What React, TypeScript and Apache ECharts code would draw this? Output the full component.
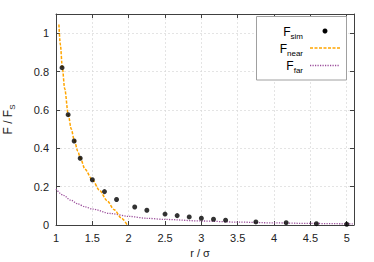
import React, { useEffect, useRef } from "react";
import * as echarts from "echarts";

const simX = [1.083, 1.167, 1.25, 1.333, 1.5, 1.667, 1.833, 2.083, 2.25, 2.5, 2.667, 2.833, 3.0, 3.167, 3.333, 3.75, 4.167, 4.583, 5.0];
const simY = [0.82, 0.575, 0.438, 0.348, 0.236, 0.174, 0.133, 0.094, 0.077, 0.057, 0.049, 0.042, 0.035, 0.03, 0.025, 0.016, 0.012, 0.007, 0.004];

const nearX = [1.04, 1.06, 1.087, 1.12, 1.169, 1.21, 1.25, 1.3, 1.334, 1.4, 1.5, 1.6, 1.7, 1.8, 1.9, 1.98];
const nearY = [1.045, 0.94, 0.82, 0.71, 0.575, 0.5, 0.445, 0.385, 0.35, 0.29, 0.236, 0.18, 0.128, 0.08, 0.036, 0];

const farX = [1.0, 1.1, 1.2, 1.3, 1.4, 1.5, 1.75, 2.0, 2.25, 2.5, 3.0, 3.5, 4.0, 4.5, 5.1];
const farY = [0.188, 0.155, 0.13, 0.11, 0.095, 0.083, 0.06, 0.045, 0.035, 0.029, 0.021, 0.015, 0.011, 0.008, 0.0055];

const FONT = "'Liberation Sans', Arial, sans-serif";
const ORANGE = "#ffa500";
const PURPLE = "#9a4c9a";
const FRAME = "#404040";

const subRich = {
  a: { fontSize: 12, fontFamily: FONT, color: "#222" },
  b: { fontSize: 8, fontFamily: FONT, color: "#222", padding: [8, 0, 0, 0] },
};

export default function App() {
  const ref = useRef<HTMLDivElement>(null);
  useEffect(() => {
    document.body.style.margin = "0";
    const chart = echarts.init(ref.current!, null, { renderer: "svg" });
    const zip = (xs: number[], ys: number[]) => xs.map((x, i) => [x, ys[i]]);
    const baseX = {
      type: "value",
      min: 1,
      max: 5.1,
      interval: 0.5,
    };
    const baseY = {
      type: "value",
      min: 0,
      max: 1.1,
      interval: 0.2,
    };
    const tick = { show: true, inside: true, length: 4, lineStyle: { color: FRAME, width: 1 } };
    const line = { show: true, onZero: false, lineStyle: { color: FRAME, width: 1 } };
    const split = { show: true, lineStyle: { color: "#d9d9d9", width: 0.7, type: [2, 2] } };
    const legendText = (label: string, sub: string, y: number) => ({
      type: "text",
      x: 303,
      y,
      z: 101,
      style: {
        text: `{a|${label}}{b|${sub}}`,
        align: "right",
        verticalAlign: "middle",
        rich: subRich,
      },
    });
    chart.setOption({
      animation: false,
      grid: { left: 56, right: 20, top: 14, bottom: 37, outerBoundsMode: "none", containLabel: false },
      xAxis: [
        {
          ...baseX,
          position: "bottom",
          axisLine: line,
          axisTick: tick,
          splitLine: split,
          axisLabel: {
            showMaxLabel: false,
            fontSize: 11,
            fontFamily: FONT,
            color: "#222",
            margin: 7,
          },
          name: "r / σ",
          nameLocation: "middle",
          nameGap: 19,
          nameTextStyle: {
            fontSize: 11,
            fontFamily: FONT,
            color: "#222",
            verticalAlign: "top",
            padding: [0, 10, 0, 0],
          },
        },
        {
          ...baseX,
          position: "top",
          axisLine: line,
          axisTick: tick,
          splitLine: { show: false },
          axisLabel: { show: false },
        },
      ],
      yAxis: [
        {
          ...baseY,
          position: "left",
          axisLine: line,
          axisTick: tick,
          splitLine: split,
          axisLabel: {
            showMaxLabel: false,
            fontSize: 11,
            fontFamily: FONT,
            color: "#222",
            margin: 7,
          },
          name: "{a|F / F}{b|S}",
          nameLocation: "middle",
          nameRotate: 90,
          nameGap: 40,
          nameTextStyle: { rich: subRich },
        },
        {
          ...baseY,
          position: "right",
          axisLine: line,
          axisTick: tick,
          splitLine: { show: false },
          axisLabel: { show: false },
        },
      ],
      series: [
        {
          name: "F_far",
          type: "line",
          data: zip(farX, farY),
          showSymbol: false,
          smooth: 0.3,
          smoothMonotone: "x",
          lineStyle: { color: PURPLE, width: 1.3, type: [1.2, 1.3] },
          z: 2,
        },
        {
          name: "F_near",
          type: "line",
          data: zip(nearX, nearY),
          showSymbol: false,
          smooth: 0.3,
          smoothMonotone: "x",
          lineStyle: { color: ORANGE, width: 1.5, type: [3, 1.5] },
          z: 3,
        },
        {
          name: "F_sim",
          type: "scatter",
          data: zip(simX, simY),
          symbol: "circle",
          symbolSize: 5,
          itemStyle: { color: "#000" },
          z: 4,
        },
      ],
      graphic: [
        {
          type: "rect",
          shape: { x: 256.5, y: 16.5, width: 90, height: 63.5 },
          style: { fill: "#fff", stroke: "#a0a0a0", lineWidth: 1 },
          z: 100,
        },
        legendText("F", "sim", 32),
        legendText("F", "near", 49),
        legendText("F", "far", 66),
        {
          type: "circle",
          shape: { cx: 325, cy: 31, r: 2.5 },
          style: { fill: "#000" },
          z: 101,
        },
        {
          type: "line",
          shape: { x1: 310, y1: 48, x2: 340, y2: 48 },
          style: { stroke: ORANGE, lineWidth: 1.5, lineDash: [3, 1.5] },
          z: 101,
        },
        {
          type: "line",
          shape: { x1: 310, y1: 65.5, x2: 340, y2: 65.5 },
          style: { stroke: PURPLE, lineWidth: 1.3, lineDash: [1.2, 1.3] },
          z: 101,
        },
      ],
    });
    return () => chart.dispose();
  }, []);
  return (
    <div
      ref={ref}
      style={{ position: "absolute", left: 0, top: 0, width: 374, height: 262 }}
    />
  );
}
